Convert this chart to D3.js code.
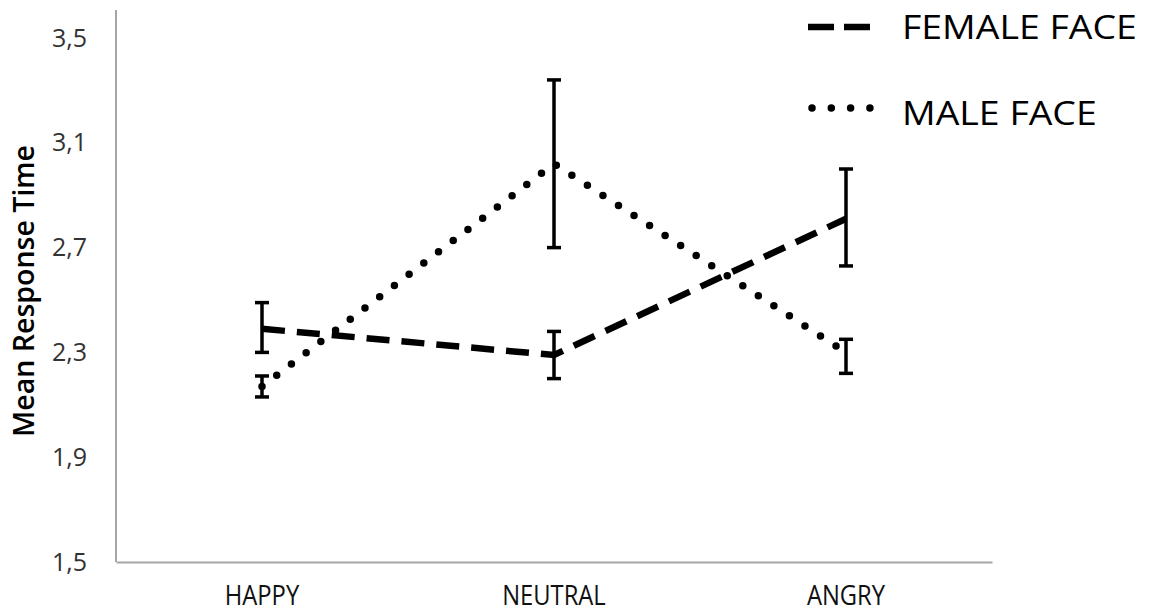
<!DOCTYPE html>
<html><head><meta charset="utf-8">
<script src="https://cdn.jsdelivr.net/npm/d3@7"></script>
<style>body{margin:0;background:#fff}svg{display:block}text{font-family:"Open Sans",sans-serif}</style>
</head><body>
<svg id="c" width="1149" height="614"></svg>
<script>
const categories = ["HAPPY", "NEUTRAL", "ANGRY"];
const femaleMean = [2.39, 2.29, 2.81];
const femaleLow  = [2.30, 2.20, 2.63];
const femaleHigh = [2.49, 2.38, 3.00];
const maleMean = [2.17, 3.02, 2.30];
const maleLow  = [2.13, 2.70, 2.22];
const maleHigh = [2.21, 3.34, 2.35];
const yTicks = [1.5, 1.9, 2.3, 2.7, 3.1, 3.5];
const seriesNames = ["FEMALE FACE", "MALE FACE"];

(function(){
const svg = d3.select("#c");
const mLeft = 116, mRight = 992, mTop = 38, mBottom = 562;
const x = d3.scaleBand().domain(categories).range([mLeft, mRight]).padding(0);
const y = d3.scaleLinear().domain([1.5, 3.5]).range([mBottom, mTop]);
const cx = c => x(c) + x.bandwidth() / 2;

// axes
const yAxis = svg.append("g").attr("transform", `translate(${mLeft},0)`)
  .call(d3.axisLeft(y).tickValues(yTicks).tickSize(0).tickPadding(29)
    .tickFormat(d => d3.format(".1f")(d).replace(".", ",")));
yAxis.select(".domain").remove();
yAxis.selectAll("text").attr("font-size", 25).attr("fill", "#333");
svg.append("line").attr("x1", mLeft).attr("x2", mLeft).attr("y1", 10).attr("y2", mBottom)
  .attr("stroke", "#a6a6a6").attr("stroke-width", 2);

const xAxis = svg.append("g").attr("transform", `translate(0,${mBottom})`)
  .call(d3.axisBottom(x).tickSize(0));
xAxis.select(".domain").attr("stroke", "#a6a6a6").attr("stroke-width", 2);
xAxis.selectAll("text").attr("font-size", 27).attr("fill", "#111")
  .attr("y", 43).attr("dy", 0).attr("transform", "scale(0.88,1)");

svg.append("text").attr("transform", "translate(34,291) rotate(-90)")
  .attr("text-anchor", "middle").attr("font-size", 28).attr("font-weight", 600)
  .attr("textLength", 292).attr("lengthAdjust", "spacingAndGlyphs")
  .text("Mean Response Time");

const line = d3.line().x((d, i) => cx(categories[i])).y(d => y(d));

function series(mean, low, high, dash, width, cap) {
  svg.append("path").datum(mean).attr("d", line).attr("fill", "none")
    .attr("stroke", "#000").attr("stroke-width", width)
    .attr("stroke-dasharray", dash).attr("stroke-linecap", cap);
  const g = svg.append("g");
  categories.forEach((c, i) => {
    const xx = cx(c);
    g.append("line").attr("x1", xx).attr("x2", xx).attr("y1", y(low[i])).attr("y2", y(high[i]))
      .attr("stroke", "#000").attr("stroke-width", 3.5);
    [low[i], high[i]].forEach(v => g.append("line").attr("x1", xx - 7).attr("x2", xx + 7)
      .attr("y1", y(v)).attr("y2", y(v)).attr("stroke", "#000").attr("stroke-width", 3.5));
  });
}
series(femaleMean, femaleLow, femaleHigh, "23,12", 6.5, "butt");
series(maleMean, maleLow, maleHigh, "0,18.5", 7.5, "round");

// legend
const lg = svg.append("g");
lg.append("line").attr("x1", 808).attr("x2", 870).attr("y1", 27).attr("y2", 27)
  .attr("stroke", "#000").attr("stroke-width", 6.5).attr("stroke-dasharray", "26,10");
lg.append("line").attr("x1", 812).attr("x2", 870).attr("y1", 108).attr("y2", 108)
  .attr("stroke", "#000").attr("stroke-width", 7.5).attr("stroke-dasharray", "0,19.3").attr("stroke-linecap", "round");
lg.selectAll("text.lg").data(seriesNames).join("text").attr("class", "lg")
  .attr("transform", (d, i) => `translate(902,${i ? 125 : 39}) scale(1.17,1)`)
  .attr("font-size", 32).attr("fill", "#000")
  .text(d => d);
})();
</script>
</body></html>
